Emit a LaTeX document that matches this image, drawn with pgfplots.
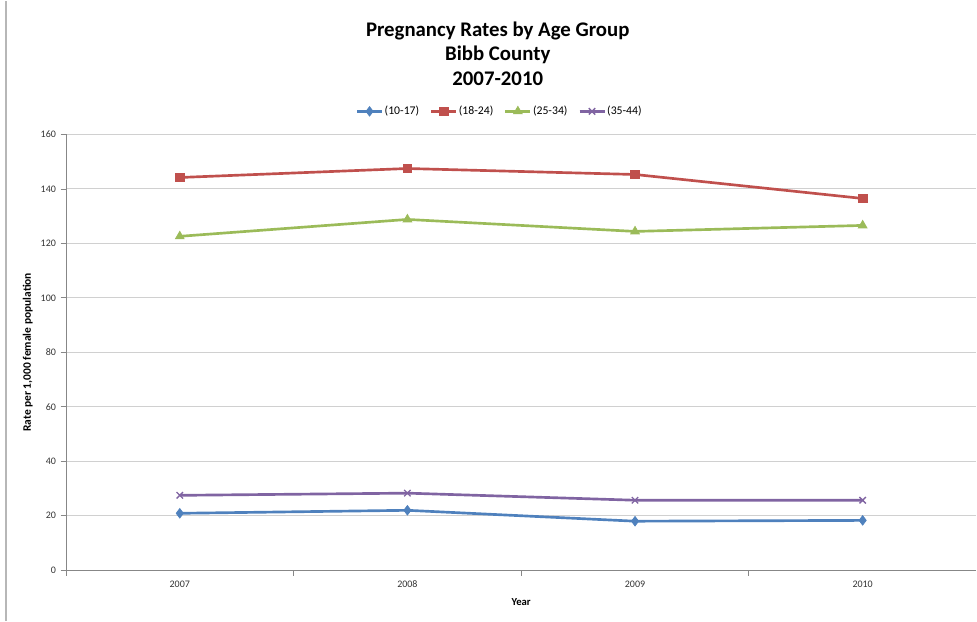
\documentclass[border=0pt]{standalone}
\usepackage{fontspec}
\setmainfont{Carlito}
\usepackage{pgfplots}
\pgfplotsset{compat=1.18}

\definecolor{xblue}{HTML}{4F81BD}
\definecolor{xred}{HTML}{C0504D}
\definecolor{xgreen}{HTML}{9BBB59}
\definecolor{xpurple}{HTML}{8064A2}
\definecolor{gridc}{HTML}{D0D0D0}
\definecolor{axisc}{HTML}{878787}

\begin{document}
\begin{tikzpicture}
% page frame: 977 x 621 px at 0.75pt per px
\path (0pt,0pt) rectangle (732.75pt,465.75pt);
\draw[axisc!60, line width=0.8pt] (4.5pt,0pt) -- (4.5pt,465.75pt);

\node[font=\fontsize{15.6}{18}\selectfont\bfseries] at (373.5pt,443.25pt) {Pregnancy Rates by Age Group};
\node[font=\fontsize{15.6}{18}\selectfont\bfseries] at (373.5pt,425.25pt) {Bibb County};
\node[font=\fontsize{15.6}{18}\selectfont\bfseries] at (373.5pt,407.25pt) {2007-2010};

\begin{axis}[
    at={(49.5pt,38.25pt)}, anchor=south west,
    scale only axis,
    width=683.25pt, height=327pt,
    xmin=-0.5, xmax=3.5,
    ymin=0, ymax=160,
    xtick={0,1,2,3},
    xticklabels={2007,2008,2009,2010},
    minor xtick={-0.5,0.5,1.5,2.5},
    ytick={0,20,...,160},
    axis x line*=bottom,
    axis y line*=left,
    axis line style={axisc, line width=0.6pt},
    tick align=outside,
    major x tick style={draw=none},
    minor x tick style={axisc, line width=0.6pt},
    ytick style={axisc, line width=0.6pt},
    major tick length=4pt,
    minor tick length=4pt,
    ymajorgrids,
    grid style={gridc, line width=0.8pt},
    ticklabel style={font=\fontsize{7.5}{9}\selectfont, text=black!80},
    xticklabel style={anchor=north, text height=5.5pt, text depth=0pt},
    /pgf/number format/assume math mode=true,
    xlabel={Year},
    ylabel={Rate per 1,000 female population},
    xlabel style={font=\fontsize{8}{9}\selectfont\bfseries, at={(axis description cs:0.5,-0.073)}, anchor=center},
    ylabel style={font=\fontsize{8.6}{10}\selectfont\bfseries, at={(axis description cs:-0.042,0.5)}, anchor=center, rotate=0},
    legend columns=4,
    legend style={at={(axis description cs:0.476,1.053)}, anchor=center, draw=none,
        font=\fontsize{8.8}{10}\selectfont,
        /tikz/every odd column/.append style={column sep=0pt},
        /tikz/every even column/.append style={column sep=7pt},
        nodes={inner xsep=1pt}},
    legend image code/.code={
        \draw[mark repeat=2,mark phase=2,#1] plot coordinates {(0cm,0cm) (0.33cm,0cm) (0.66cm,0cm)};},
    every axis plot/.append style={line width=2pt},
]
\addplot[xblue, mark=diamond*, mark size=3.6pt, mark options={line width=0.5pt}] coordinates {(0,20.9) (1,22.0) (2,18.0) (3,18.3)};
\addplot[xred, mark=square*, mark size=3.2pt, mark options={line width=0.5pt}] coordinates {(0,144.2) (1,147.5) (2,145.3) (3,136.5)};
\addplot[xgreen, mark=triangle*, mark size=3.8pt, mark options={line width=0.5pt}] coordinates {(0,122.6) (1,128.8) (2,124.4) (3,126.6)};
\addplot[xpurple, mark=x, mark size=3.4pt, mark options={line width=1pt}] coordinates {(0,27.5) (1,28.3) (2,25.7) (3,25.7)};
\legend{(10-17),(18-24),(25-34),(35-44)}
\end{axis}
\end{tikzpicture}
\end{document}
